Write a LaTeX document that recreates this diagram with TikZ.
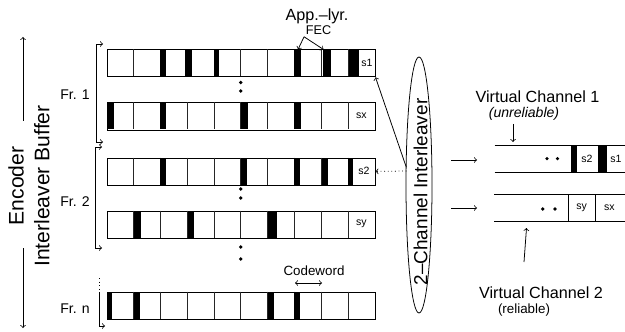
\documentclass[tikz,border=0pt]{standalone}
\usepackage{fontspec}
\setmainfont{Liberation Sans}
\usetikzlibrary{shapes.geometric}
\begin{document}
\begin{tikzpicture}[x=0.25mm, y=-0.25mm, line width=0.55pt,
  rowbox/.style={rectangle, draw=black, inner sep=0pt, minimum width=67mm, minimum height=6.75mm, anchor=north west},
  cell/.style={black!85, line width=0.45pt},
  bar/.style={fill=black},
  tag/.style={font=\fontsize{7.5}{9}\selectfont, inner sep=0pt},
  frm/.style={font=\fontsize{10}{12}\selectfont, inner sep=1pt},
  lbl/.style={font=\fontsize{11.5}{13}\selectfont, inner sep=1pt},
  note/.style={font=\fontsize{9.5}{11}\selectfont, inner sep=1pt}]
\useasboundingbox (0,0) rectangle (625,331);
% encoder interleaver buffer
\node[rotate=90, align=center, font=\fontsize{15}{18.3}\selectfont] (buf) at (29,186) {Encoder\\Interleaver Buffer};
\coordinate (up0) at (23,121); \coordinate (up1) at (23,37);
\coordinate (dn0) at (23,248); \coordinate (dn1) at (23,328);
\draw[->] (up0) -- (up1);
\draw[->] (dn0) -- (dn1);
% frame rows
\node[rowbox] (r1) at (106.7,49.5) {};
\node[rowbox] (r2) at (106.7,102.5) {};
\node[rowbox] (r3) at (106.7,157.5) {};
\node[rowbox] (r4) at (106.7,210.5) {};
\node[rowbox] (r5) at (106.7,291.5) {};
\foreach \y in {49.5,102.5,157.5,210.5,291.5}
  \foreach \k in {1,...,9}
    \draw[cell] ({106.7+26.8*\k},\y) -- ++(0,27);
% FEC columns
\foreach \x/\w in {160.3/6, 185/6.7, 213.9/5.4, 294.3/6.7, 322.7/8, 349/10}
  \fill[bar] (\x,49.5) rectangle ++(\w,27);
\foreach \x/\w in {106.7/7.3, 160.3/6, 241/6.7, 294.3/6.7}
  \fill[bar] (\x,102.5) rectangle ++(\w,27);
\foreach \x/\w in {160.3/6, 240.7/6, 294.3/6, 321.7/6, 347.9/5.5}
  \fill[bar] (\x,157.5) rectangle ++(\w,27);
\foreach \x/\w in {133.5/7.5, 187.9/6.4, 267.5/9}
  \fill[bar] (\x,210.5) rectangle ++(\w,27);
\foreach \x/\w in {106.7/5.6, 133.5/6.5, 267.5/6.8, 294.3/5.7}
  \fill[bar] (\x,291.5) rectangle ++(\w,27);
\node[tag] (s1) at (367,63) {s1};
\node[tag] (sx) at (361.3,116) {sx};
\node[tag] (s2) at (364,171) {s2};
\node[tag] (sy) at (361.3,224) {sy};
% vertical dots
\foreach \y in {82.5,91,189,198,247,259}
  \fill (240.7,\y) circle (1.8);
% frame brackets
\node[frm] (fr1) at (75,95) {Fr. 1};
\node[frm] (fr2) at (75,202) {Fr. 2};
\node[frm] (frn) at (75,309) {Fr. n};
\coordinate (f1a) at (103,44); \coordinate (f1b) at (103,142);
\coordinate (f2a) at (102,147); \coordinate (f2b) at (102,248);
\coordinate (fna) at (99,278); \coordinate (fnb) at (105,326);
\draw[<->] (f1a) -| (96,142) -- (f1b);
\draw[<->] (f2a) -| (95,248) -- (f2b);
\draw[dotted] (fna) -- (99,293);
\draw[->] (99,293) |- (fnb);
% FEC pointers
\node[lbl] (app) at (317,16) {App.--lyr.};
\node[font=\fontsize{9}{10}\selectfont, inner sep=1pt] (fec) at (318.5,30.5) {FEC};
\coordinate (fa) at (298,49.5); \coordinate (fb) at (323.5,49.5);
\draw[->] (fec.south west) -- (fa);
\draw[->] (fec.south west) -- (fb);
% codeword width
\node[note] (cw) at (314,271) {Codeword};
\coordinate (cw0) at (295,283); \coordinate (cw1) at (322,283);
\draw[<->] (cw0) -- (cw1);
% interleaver
\node[ellipse, draw, minimum width=6.5mm, minimum height=64mm, inner sep=0pt] (ilv) at (419,185) {};
\node[rotate=90, font=\fontsize{13.5}{15}\selectfont, inner sep=0pt] (ilvt) at (420.5,192) {2--Channel Interleaver};
\coordinate (ja) at (406.2,167); \coordinate (jb) at (406.5,171);
\draw[->] (ja) -- (r1.south east);
\draw[->, dotted] (jb) -- (r3.east);
\coordinate (o1a) at (451,160); \coordinate (o1b) at (477,160);
\coordinate (o2a) at (451,208); \coordinate (o2b) at (477,208);
\draw[->] (o1a) -- (o1b);
\draw[->] (o2a) -- (o2b);
% virtual channel 1
\draw (494.5,145) -- (625,145);
\draw (494.5,172.3) -- (625,172.3);
\fill[bar] (570.5,145) rectangle (576.7,172.3);
\fill[bar] (597.5,145) rectangle (606.7,172.3);
\node[tag] (c1s2) at (587,158.6) {s2};
\node[tag] (c1s1) at (616,158.6) {s1};
\fill (547,158.6) circle (1.8);
\fill (557.5,158.6) circle (1.8);
\node[lbl] (vc1) at (537.5,97) {Virtual Channel 1};
\node[note, font=\fontsize{10}{12}\selectfont\itshape] (vc1n) at (524,113.5) {(unreliable)};
\coordinate (v1a) at (513,124); \coordinate (v1b) at (513,142);
\draw[->] (v1a) -- (v1b);
% virtual channel 2
\draw (494,194.3) -- (625,194.3);
\draw (494,221) -- (625,221);
\draw (568.3,194.3) -- (568.3,221);
\draw (595.3,194.3) -- (595.3,221);
\node[tag] (c2sy) at (581.7,207.6) {sy};
\node[tag] (c2sx) at (609.3,207.6) {sx};
\fill (542.7,209) circle (1.8);
\fill (555,209) circle (1.8);
\node[lbl] (vc2) at (541,293) {Virtual Channel 2};
\node[note] (vc2n) at (524,310.5) {(reliable)};
\coordinate (v2a) at (524,262); \coordinate (v2b) at (526.5,228);
\draw[->] (v2a) -- (v2b);
\end{tikzpicture}
\end{document}
